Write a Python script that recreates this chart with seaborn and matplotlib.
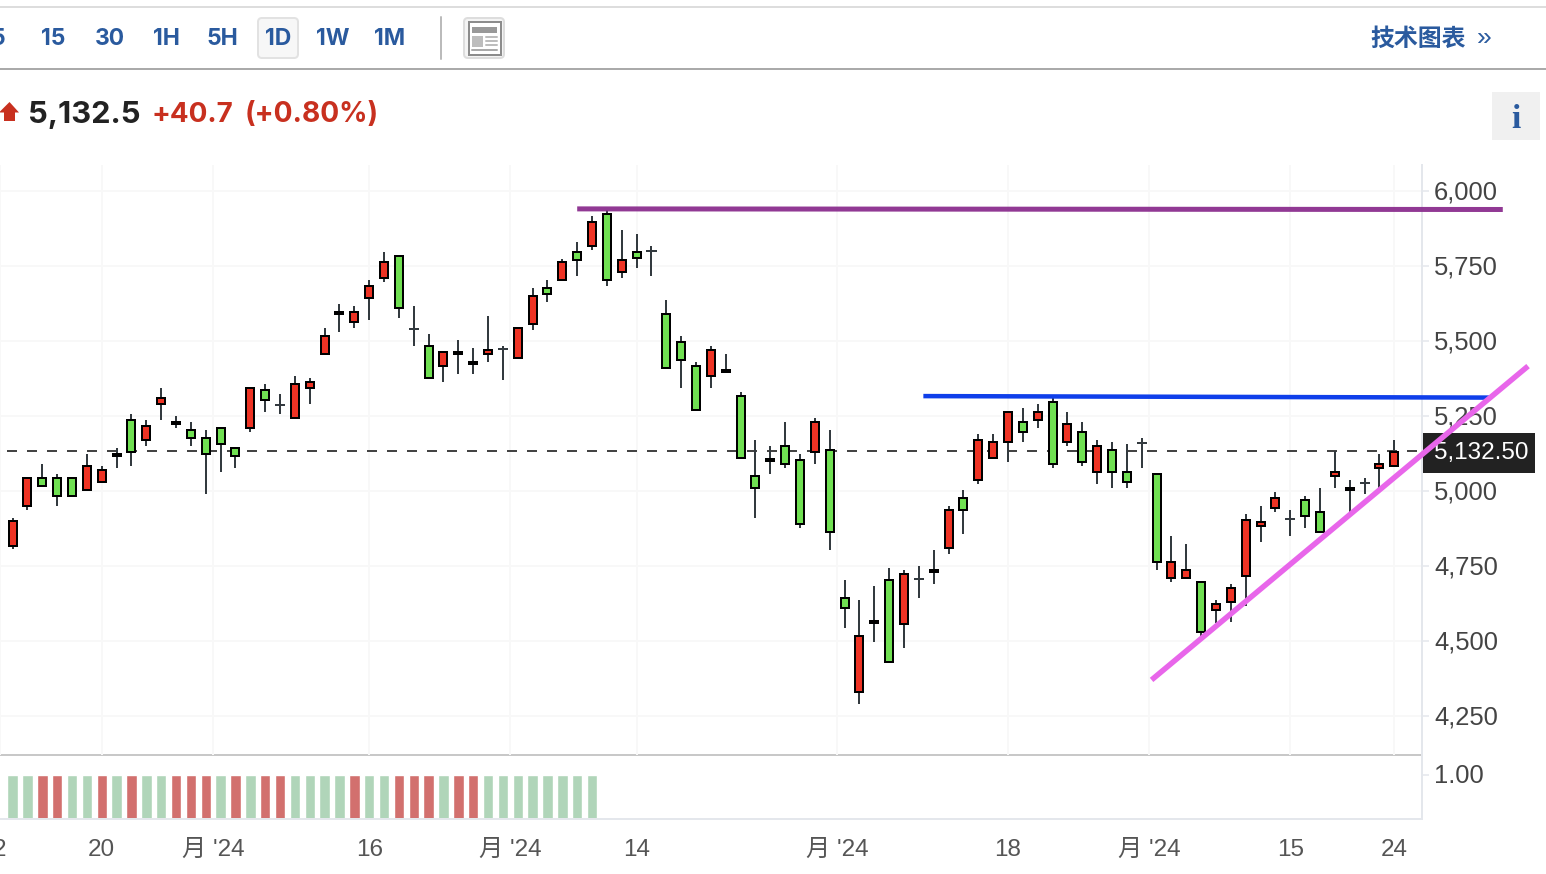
import pandas as pd
import seaborn as sns
from matplotlib import pyplot as plt
from matplotlib.patches import Rectangle, FancyBboxPatch, Polygon
from matplotlib.transforms import ScaledTranslation

# daily candles
opens = [4817, 4950, 5045, 5045, 5045, 5003, 5030, 5116, 5238, 5170,
         5290, 5232, 5205, 5178, 5212, 5145, 5210, 5338, 5287, 5243,
         5343, 5456, 5590, 5563, 5643, 5710, 5785, 5542, 5485, 5416,
         5465, 5432, 5456, 5475, 5443, 5556, 5678, 5703, 5798, 5816,
         5925, 5730, 5798, 5802, 5592, 5498, 5418, 5383, 5405, 5318,
         5052, 5102, 5152, 5105, 5130, 5138, 4645, 4330, 4562, 4705,
         4556, 4708, 4730, 4810, 4978, 5036, 5110, 5163, 5232, 5236,
         5298, 5163, 5198, 5063, 5138, 5065, 5162, 5058, 4710, 4710,
         4698, 4603, 4630, 4716, 4883, 4943, 4908, 4972, 4932, 5050,
         5012, 5026, 5076, 5083]
highs = [4911, 5048, 5091, 5057, 5048, 5124, 5084, 5144, 5257, 5237,
         5344, 5251, 5231, 5204, 5214, 5148, 5347, 5357, 5324, 5384,
         5377, 5544, 5624, 5617, 5704, 5797, 5788, 5617, 5524, 5467,
         5504, 5477, 5584, 5484, 5548, 5677, 5704, 5775, 5831, 5917,
         5937, 5871, 5857, 5817, 5637, 5517, 5431, 5484, 5457, 5331,
         5171, 5151, 5231, 5124, 5244, 5204, 4704, 4637, 4684, 4744,
         4737, 4751, 4804, 4951, 5004, 5191, 5191, 5267, 5277, 5291,
         5311, 5264, 5231, 5171, 5164, 5157, 5177, 5061, 4851, 4824,
         4701, 4637, 4691, 4924, 4951, 4997, 4937, 4984, 5011, 5135,
         5037, 5044, 5124, 5171]
lows = [4807, 4937, 5013, 4951, 4980, 5000, 5027, 5077, 5084, 5151,
        5237, 5211, 5151, 4991, 5064, 5077, 5197, 5264, 5257, 5241,
        5291, 5453, 5531, 5544, 5571, 5697, 5577, 5484, 5373, 5364,
        5391, 5391, 5431, 5371, 5440, 5537, 5631, 5700, 5717, 5804,
        5684, 5711, 5744, 5717, 5407, 5344, 5267, 5344, 5393, 5107,
        4911, 5057, 5077, 4877, 5091, 4804, 4544, 4291, 4497, 4427,
        4477, 4644, 4691, 4791, 4857, 5024, 5107, 5097, 5164, 5211,
        5077, 5151, 5084, 5024, 5011, 5011, 5077, 4737, 4697, 4707,
        4517, 4561, 4564, 4617, 4831, 4931, 4851, 4877, 4860, 5011,
        4931, 4991, 5011, 5080]
closes = [4901, 5045, 5016, 4983, 4983, 5085, 5072, 5125, 5130, 5218,
          5312, 5223, 5176, 5123, 5156, 5116, 5345, 5303, 5287, 5358,
          5365, 5518, 5598, 5598, 5685, 5765, 5610, 5542, 5376, 5465,
          5456, 5423, 5472, 5475, 5545, 5652, 5656, 5765, 5770, 5898,
          5703, 5772, 5776, 5802, 5410, 5436, 5270, 5472, 5396, 5110,
          5010, 5106, 5090, 4890, 5232, 4863, 4610, 4518, 4566, 4430,
          4725, 4708, 4738, 4938, 4936, 5172, 5165, 5265, 5196, 5265,
          5090, 5225, 5096, 5152, 5063, 5030, 5162, 4763, 4765, 4738,
          4530, 4625, 4678, 4905, 4898, 4978, 4908, 4916, 4863, 5065,
          5003, 5026, 5092, 5132]
# the two thick dojis that show as black dashes
black_dojis = [51, 58]

volume_sides = list("GGRRGGRGRGGRRRGRGRRGGGGRGGRRRGRRGGGGGGGG")
volumes = [1.0] * len(volume_sides)

price_ticks = [4250, 4500, 4750, 5000, 5250, 5500, 5750, 6000]
date_ticks = [-0.85, 6, 13.5, 24, 33.5, 42, 55.5, 67, 76.5, 86, 93]
date_labels = ["2", "20", "月 '24", "16", "月 '24", "14", "月 '24", "18", "月 '24", "15", "24"]

last_price = 5132.5

# drawn trend lines: bar index, price
purple_x, purple_y = [38, 100.3], [5941, 5939]
blue_x, blue_y = [61.3, 99.4], [5317, 5312]
pink_x, pink_y = [76.66, 102], [4371, 5417]

periods = ["15", "30", "1H", "5H", "1D", "1W", "1M"]
period_centers = [53.5, 110, 166, 222, 278, 333, 390]

W, H = 1546, 874
GREEN, RED = "#70E052", "#EE3324"
BLUE_UI = "#2A5A9E"
FONTS = ["Liberation Sans", "Noto Sans CJK SC", "DejaVu Sans"]
UI_FONT = ["Inter", "Liberation Sans"]

sns.set_theme(style="white")
plt.rcParams["font.family"] = FONTS
px = 72 / 100  # one pixel in points

fig = plt.figure(figsize=(W / 100, H / 100), dpi=100, facecolor="white")


def box(left, top, right, bottom):
    return [left / W, 1 - bottom / H, (right - left) / W, (bottom - top) / H]


# page furniture sits under the chart, the trend lines cross the price tag
ui = fig.add_axes([0, 0, 1, 1], zorder=1)
ui.set_xlim(0, W)
ui.set_ylim(H, 0)
ui.axis("off")

ui.plot([0, W], [7, 7], color="#DDDDDD", lw=2 * px)
ui.plot([0, W], [69, 69], color="#AAAAAA", lw=2 * px)
ui.add_patch(FancyBboxPatch((258, 18), 40, 40, boxstyle="round,pad=0,rounding_size=4",
                            fc="#F7F7F7", ec="#E2E2E2", lw=2 * px))
ui.text(5, 39, "5", color=BLUE_UI, fontsize=16.5, fontweight="bold", ha="right", va="center",
        family=UI_FONT)
for label, center in zip(periods, period_centers):
    ui.text(center, 39, label, color=BLUE_UI, fontsize=16.5, fontweight="bold",
            ha="center", va="center", family=UI_FONT)
ui.plot([441, 441], [17, 59], color="#BBBBBB", lw=2 * px)

# newspaper icon
ui.add_patch(FancyBboxPatch((464, 18), 40, 40, boxstyle="round,pad=0,rounding_size=4",
                            fc="#F4F4F4", ec="#DDDDDD", lw=2 * px))
ui.add_patch(Rectangle((469, 22), 32, 33, fc="white", ec="#8C8C8C", lw=2 * px))
ui.add_patch(Rectangle((472, 27), 25, 6, fc="#999999", ec="none"))
ui.add_patch(Rectangle((472, 36), 11, 11, fc="#BDBDBD", ec="none"))
for line_y in [37, 41, 45]:
    ui.plot([486, 497], [line_y, line_y], color="#BDBDBD", lw=2 * px)
ui.plot([472, 497], [50, 50], color="#AAAAAA", lw=2 * px)

ui.text(1370, 39, "技术图表", color=BLUE_UI, fontsize=17.2, fontweight="bold", ha="left", va="center",
        family=["Noto Sans CJK SC", "DejaVu Sans"])
ui.text(1484, 38, "»", color=BLUE_UI, fontsize=19, ha="center", va="center")

# quote line
ui.add_patch(Polygon([(-1, 112.5), (9.5, 102), (19, 112.5), (15, 112.5), (15, 121), (4, 121), (4, 112.5)],
                     fc="#C8301F", ec="none"))
ui.text(28, 115, "5,132.5", color="#222222", fontsize=22.2, fontweight="bold", ha="left", va="center",
        family=UI_FONT)
ui.text(152, 115, "+40.7", color="#C8301F", fontsize=20, fontweight="bold", ha="left", va="center",
        family=UI_FONT)
ui.text(245, 115, "(+0.80%)", color="#C8301F", fontsize=20.2, fontweight="bold", ha="left", va="center",
        family=UI_FONT)

ui.add_patch(Rectangle((1492, 92), 48, 48, fc="#F0F0F0", ec="none"))
ui.text(1516, 119, "i", color=BLUE_UI, fontsize=24, fontweight="bold", ha="center", va="center",
        family="Liberation Serif")

# last price tag
ui.add_patch(Rectangle((1422, 433), 113, 40, fc="#222222", ec="none"))
ui.text(1434, 453, "5,132.50", color="white", fontsize=17.5, ha="left", va="center")

candles = pd.DataFrame({"open": opens, "high": highs, "low": lows, "close": closes})
candles["idx"] = candles.index

x_range = ((0.7 - 12.1) / 14.87, (1422.7 - 12.1) / 14.87)

ax = fig.add_axes(box(0, 165, 1422, 755), zorder=2)
ax.patch.set_alpha(0)
ax.set_xlim(x_range)
ax.set_ylim(4120.7, 6087.3)

for name in ["top", "left", "bottom"]:
    ax.spines[name].set_visible(False)
ax.spines["right"].set_color("#E4E7EC")
ax.spines["right"].set_linewidth(2 * px)

ax.set_yticks(price_ticks)
ax.set_yticklabels([f"{v:,}" for v in price_ticks], fontsize=18.4, color="#444444")
ax.yaxis.tick_right()
ax.tick_params(axis="y", length=7 * px, width=1.5 * px, color="#E4E7EC", pad=5 * px)
ax.set_xticks(date_ticks)
ax.tick_params(axis="x", length=0, labelbottom=False)
ax.grid(True, color="#F8F8F8", lw=2 * px)
ax.set_axisbelow(True)

sns.lineplot(x=[x_range[0] + 0.4, x_range[1]], y=[last_price, last_price], ax=ax, color="#444444",
             lw=2 * px, linestyle=(0, (5, 5)), zorder=1.5)

ax.vlines(candles["idx"], candles["low"], candles["high"], color="#333A3F", lw=2 * px, zorder=3)

body_width = 8 / 14.87
up = candles[(candles["close"] > candles["open"]) & ~candles["idx"].isin(black_dojis)]
down = candles[candles["close"] < candles["open"]]
ax.bar(up["idx"], up["close"] - up["open"], bottom=up["open"], width=body_width,
       color=RED, edgecolor="black", lw=2 * px, zorder=4)
ax.bar(down["idx"], down["open"] - down["close"], bottom=down["close"], width=body_width,
       color=GREEN, edgecolor="black", lw=2 * px, zorder=4)

flat = candles[candles["close"] == candles["open"]]
ax.hlines(flat["close"], flat["idx"] - 0.34, flat["idx"] + 0.34, color="#333A3F", lw=2 * px, zorder=4)
dashes = candles.loc[black_dojis]
ax.bar(dashes["idx"], dashes["close"] - dashes["open"], bottom=dashes["open"], width=body_width,
       color="black", edgecolor="black", lw=2 * px, zorder=4)

sns.lineplot(x=purple_x, y=purple_y, ax=ax, color="#8B2E8E", lw=5 * px, alpha=0.95, clip_on=False, zorder=6,
             solid_capstyle="butt")
sns.lineplot(x=blue_x, y=blue_y, ax=ax, color="#0F3FEA", lw=4.5 * px, clip_on=False, zorder=6,
             solid_capstyle="butt")
sns.lineplot(x=pink_x, y=pink_y, ax=ax, color="#E866EA", lw=5.5 * px, clip_on=False, zorder=7,
             solid_capstyle="butt")
ax.set_xlabel("")
ax.set_ylabel("")

# volume strip
vax = fig.add_axes(box(0, 755, 1422, 819), zorder=1.5)
volume_table = pd.DataFrame({"idx": range(len(volumes)), "volume": volumes, "side": volume_sides})
sns.barplot(data=volume_table, x="idx", y="volume", hue="side", palette={"G": "#B0D5B9", "R": "#D2706E"},
            native_scale=True, dodge=False, width=10.5 / 14.87, saturation=1, legend=False, ax=vax)
vax.set_xlim(x_range)
vax.set_ylim(0, 64 / 44)
vax.set_xlabel("")
vax.set_ylabel("")

vax.spines["left"].set_visible(False)
vax.spines["top"].set_color("#C8C8C8")
vax.spines["top"].set_linewidth(2 * px)
vax.spines["bottom"].set_color("#E4E7EC")
vax.spines["bottom"].set_linewidth(2 * px)
vax.spines["right"].set_color("#E4E7EC")
vax.spines["right"].set_linewidth(2 * px)

vax.set_yticks([1.0])
vax.set_yticklabels(["1.00"], fontsize=18.4, color="#444444")
vax.yaxis.tick_right()
vax.tick_params(axis="y", length=7 * px, width=1.5 * px, color="#E4E7EC", pad=5 * px)
vax.set_xticks(date_ticks)
vax.set_xticklabels(date_labels, fontsize=17.5, color="#555555")
vax.tick_params(axis="x", length=11 * px, width=1.5 * px, color="#E4E7EC", pad=9 * px)

# price labels sit a touch above their grid lines
lift = ScaledTranslation(0, 1.4 / 100, fig.dpi_scale_trans)
for label in ax.get_yticklabels() + vax.get_yticklabels():
    label.set_transform(label.get_transform() + lift)

fig.savefig("out.png", dpi=100)
